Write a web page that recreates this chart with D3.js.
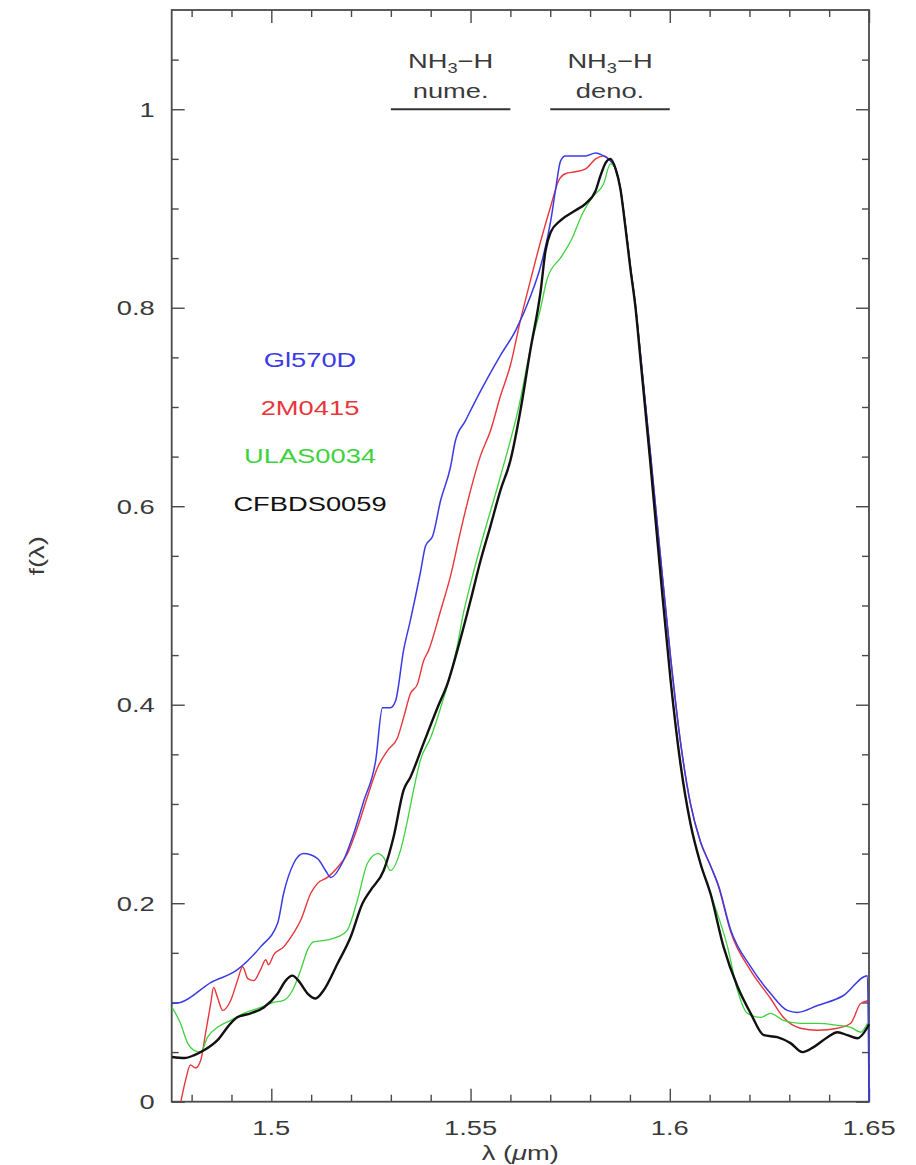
<!DOCTYPE html>
<html>
<head>
<meta charset="utf-8">
<script src="https://cdn.jsdelivr.net/npm/d3@7"></script>
<style>
  body { margin: 0; background: #fff; }
  text { font-family: "Liberation Sans", Arial, Helvetica, sans-serif; }
</style>
</head>
<body>
<svg id="chart" width="916" height="1165"></svg>
<script>
// ---- axis ticks and labels ----
const xMajorTicks = [1.5, 1.55, 1.6, 1.65];
const xMinorTicks = [1.48, 1.49, 1.51, 1.52, 1.53, 1.54, 1.56, 1.57, 1.58, 1.59, 1.61, 1.62, 1.63, 1.64];
const yMajorTicks = [0, 0.2, 0.4, 0.6, 0.8, 1];
const yMinorTicks = [0.05, 0.1, 0.15, 0.25, 0.3, 0.35, 0.45, 0.5, 0.55, 0.65, 0.7, 0.75, 0.85, 0.9, 0.95, 1.05];
const xTickLabels = ["1.5", "1.55", "1.6", "1.65"];
const yTickLabels = ["0", "0.2", "0.4", "0.6", "0.8", "1"];

// ---- index bands: [start, end] wavelength in micron ----
const bandRanges = [[1.53, 1.56], [1.57, 1.60]];
const bandLabels = ["nume.", "deno."];

// ---- spectra: [wavelength (micron), normalised flux] ----
const gl570d = [
  [1.4751,0.099],[1.4772,0.100],[1.4848,0.120],[1.4915,0.133],[1.4973,0.156],[1.5016,0.180],
  [1.5031,0.210],[1.5056,0.240],[1.5081,0.250],[1.5116,0.245],[1.5136,0.233],[1.5149,0.226],
  [1.5181,0.243],[1.5204,0.267],[1.5232,0.303],[1.5262,0.344],[1.5279,0.397],[1.5299,0.397],
  [1.5312,0.404],[1.5332,0.455],[1.5349,0.485],[1.5375,0.535],[1.5387,0.560],[1.5405,0.570],
  [1.5425,0.606],[1.5450,0.640],[1.5462,0.666],[1.5487,0.686],[1.5525,0.716],[1.5575,0.752],
  [1.5613,0.777],[1.5651,0.812],[1.5676,0.842],[1.5701,0.887],[1.5713,0.918],[1.5726,0.948],
  [1.5738,0.953],[1.5763,0.953],[1.5789,0.953],[1.5814,0.956],[1.5834,0.953],[1.5851,0.948],
  [1.5864,0.940],[1.5876,0.920],[1.5889,0.882],[1.5901,0.842],[1.5914,0.802],[1.5926,0.755],
  [1.5951,0.655],[1.5977,0.548],[1.6002,0.448],[1.6027,0.362],[1.6052,0.300],[1.6077,0.262],
  [1.6102,0.238],[1.6122,0.218],[1.6153,0.173],[1.6203,0.136],[1.6253,0.109],[1.6295,0.092],
  [1.6320,0.090],[1.6371,0.097],[1.6436,0.107],[1.6496,0.127],[1.6500,0.000]
];
const m0415 = [
  [1.4773,0.000],[1.4785,0.022],[1.4797,0.037],[1.4810,0.034],[1.4823,0.042],[1.4835,0.069],
  [1.4848,0.099],[1.4855,0.115],[1.4865,0.105],[1.4878,0.092],[1.4898,0.102],[1.4915,0.122],
  [1.4928,0.136],[1.4941,0.124],[1.4956,0.122],[1.4973,0.133],[1.4986,0.143],[1.4993,0.138],
  [1.5006,0.148],[1.5031,0.156],[1.5056,0.170],[1.5074,0.183],[1.5099,0.210],[1.5116,0.220],
  [1.5141,0.226],[1.5166,0.236],[1.5191,0.250],[1.5216,0.276],[1.5241,0.307],[1.5267,0.337],
  [1.5292,0.354],[1.5317,0.367],[1.5332,0.387],[1.5349,0.411],[1.5367,0.421],[1.5382,0.444],
  [1.5395,0.455],[1.5425,0.495],[1.5450,0.530],[1.5475,0.575],[1.5500,0.616],[1.5525,0.651],
  [1.5550,0.676],[1.5575,0.711],[1.5600,0.742],[1.5625,0.787],[1.5650,0.827],[1.5676,0.867],
  [1.5701,0.902],[1.5721,0.928],[1.5738,0.935],[1.5763,0.937],[1.5789,0.940],[1.5814,0.950],
  [1.5834,0.953],[1.5851,0.948],[1.5864,0.940],[1.5876,0.920],[1.5889,0.882],[1.5901,0.842],
  [1.5914,0.802],[1.5926,0.755],[1.5951,0.655],[1.5977,0.548],[1.6002,0.448],[1.6027,0.362],
  [1.6052,0.300],[1.6077,0.262],[1.6102,0.238],[1.6122,0.217],[1.6153,0.171],[1.6203,0.132],
  [1.6253,0.104],[1.6285,0.085],[1.6328,0.074],[1.6371,0.072],[1.6421,0.074],[1.6454,0.079],
  [1.6479,0.099],[1.6500,0.102]
];
const ulas0034 = [
  [1.4751,0.095],[1.4772,0.079],[1.4790,0.059],[1.4805,0.052],[1.4823,0.050],[1.4840,0.065],
  [1.4865,0.075],[1.4898,0.082],[1.4931,0.089],[1.4973,0.095],[1.5006,0.100],[1.5031,0.102],
  [1.5053,0.112],[1.5074,0.133],[1.5091,0.153],[1.5106,0.161],[1.5141,0.163],[1.5166,0.166],
  [1.5191,0.173],[1.5216,0.203],[1.5241,0.240],[1.5267,0.250],[1.5282,0.246],[1.5299,0.233],
  [1.5324,0.253],[1.5342,0.284],[1.5357,0.314],[1.5374,0.344],[1.5400,0.367],[1.5425,0.397],
  [1.5450,0.431],[1.5467,0.460],[1.5482,0.492],[1.5500,0.522],[1.5525,0.560],[1.5575,0.630],
  [1.5621,0.700],[1.5651,0.760],[1.5676,0.800],[1.5693,0.830],[1.5729,0.852],[1.5755,0.870],
  [1.5781,0.895],[1.5807,0.912],[1.5834,0.925],[1.5851,0.945],[1.5864,0.940],[1.5876,0.920],
  [1.5889,0.880],[1.5901,0.840],[1.5914,0.800],[1.5926,0.750],[1.5951,0.645],[1.5977,0.530],
  [1.6002,0.425],[1.6027,0.340],[1.6052,0.280],[1.6077,0.240],[1.6102,0.210],[1.6145,0.156],
  [1.6170,0.112],[1.6195,0.089],[1.6228,0.085],[1.6253,0.089],[1.6285,0.082],[1.6328,0.079],
  [1.6371,0.079],[1.6421,0.077],[1.6454,0.075],[1.6479,0.070],[1.6496,0.079]
];
const cfbds0059 = [
  [1.4751,0.045],[1.4782,0.044],[1.4807,0.047],[1.4832,0.052],[1.4865,0.062],[1.4898,0.079],
  [1.4915,0.085],[1.4948,0.089],[1.4981,0.095],[1.5016,0.109],[1.5036,0.122],[1.5053,0.127],
  [1.5068,0.122],[1.5091,0.109],[1.5111,0.104],[1.5131,0.112],[1.5166,0.139],[1.5199,0.166],
  [1.5229,0.200],[1.5249,0.213],[1.5282,0.233],[1.5307,0.267],[1.5332,0.314],[1.5349,0.327],
  [1.5382,0.361],[1.5417,0.397],[1.5442,0.421],[1.5467,0.455],[1.5500,0.505],[1.5525,0.545],
  [1.5550,0.580],[1.5575,0.616],[1.5600,0.646],[1.5625,0.696],[1.5650,0.757],[1.5676,0.817],
  [1.5688,0.857],[1.5701,0.876],[1.5726,0.888],[1.5763,0.898],[1.5789,0.905],[1.5814,0.918],
  [1.5826,0.933],[1.5839,0.946],[1.5851,0.950],[1.5864,0.940],[1.5876,0.920],[1.5889,0.880],
  [1.5901,0.840],[1.5914,0.800],[1.5926,0.750],[1.5951,0.645],[1.5977,0.530],[1.6002,0.425],
  [1.6027,0.340],[1.6052,0.280],[1.6077,0.240],[1.6102,0.210],[1.6135,0.156],[1.6170,0.116],
  [1.6203,0.089],[1.6236,0.067],[1.6270,0.065],[1.6303,0.059],[1.6333,0.050],[1.6361,0.055],
  [1.6396,0.065],[1.6421,0.070],[1.6446,0.067],[1.6471,0.064],[1.6496,0.075],[1.6500,0.078]
];

const seriesNames  = ["Gl570D", "2M0415", "ULAS0034", "CFBDS0059"];
const seriesData   = [gl570d, m0415, ulas0034, cfbds0059];
const seriesColors = ["#3b3be6", "#e8363a", "#3fd23f", "#111111"];
const seriesWidths = [1.5, 1.4, 1.3, 2.4];
const drawOrder    = [1, 0, 2, 3];

// ---- layout ----
const svg = d3.select("#chart");
const plot = { left: 171.7, right: 869, top: 10, bottom: 1101.7 };
const x = d3.scaleLinear().domain([1.475, 1.65]).range([plot.left, plot.right]);
const y = d3.scaleLinear().domain([0, 1.1]).range([plot.bottom, plot.top]);

const SX = 1.3;              // horizontal stretch of the lettering
const FS = 21;               // base font size
const textColor = "#3a3a3a";
const axisColor = "#4a4a4a";

function label(g, px, py, str, anchor, size, color) {
  const t = g.append("text")
    .attr("transform", `translate(${px},${py}) scale(${SX},1)`)
    .attr("text-anchor", anchor)
    .attr("font-size", size)
    .attr("fill", color);
  t.text(str);
  return t;
}

svg.append("defs").append("clipPath").attr("id", "plotClip")
  .append("rect")
  .attr("x", plot.left - 1).attr("y", plot.top - 1)
  .attr("width", plot.right - plot.left + 2).attr("height", plot.bottom - plot.top + 2);

// ---- frame ----
svg.append("rect")
  .attr("x", plot.left).attr("y", plot.top)
  .attr("width", plot.right - plot.left).attr("height", plot.bottom - plot.top)
  .attr("fill", "none").attr("stroke", axisColor).attr("stroke-width", 1.8);

// ---- ticks (inward, on all four sides) ----
const majorLen = 13, minorLen = 7;
function tickAxis(gen, values, len, tx, ty) {
  const g = svg.append("g")
    .attr("transform", `translate(${tx},${ty})`)
    .call(gen.tickValues(values).tickSizeInner(len).tickSizeOuter(0).tickFormat(""));
  g.select(".domain").remove();
  g.selectAll(".tick line").attr("stroke", axisColor).attr("stroke-width", 1.4);
  return g;
}
tickAxis(d3.axisBottom(x), xMajorTicks, -majorLen, 0, plot.bottom);
tickAxis(d3.axisBottom(x), xMinorTicks, -minorLen, 0, plot.bottom);
tickAxis(d3.axisTop(x), xMajorTicks, -majorLen, 0, plot.top);
tickAxis(d3.axisTop(x), xMinorTicks, -minorLen, 0, plot.top);
tickAxis(d3.axisLeft(y), yMajorTicks, -majorLen, plot.left, 0);
tickAxis(d3.axisLeft(y), yMinorTicks, -minorLen, plot.left, 0);
tickAxis(d3.axisRight(y), yMajorTicks, -majorLen, plot.right, 0);
tickAxis(d3.axisRight(y), yMinorTicks, -minorLen, plot.right, 0);

// ---- tick labels ----
const labels = svg.append("g");
xMajorTicks.forEach((v, i) => label(labels, x(v), plot.bottom + 33, xTickLabels[i], "middle", FS, textColor));
yMajorTicks.forEach((v, i) => label(labels, plot.left - 17, y(v) + 7.5, yTickLabels[i], "end", FS, textColor));

// ---- axis titles ----
const xt = label(labels, (plot.left + plot.right) / 2, 1160, "", "middle", FS, textColor);
xt.append("tspan").text("λ (");
xt.append("tspan").attr("font-style", "italic").text("μ");
xt.append("tspan").text("m)");
svg.append("text")
  .attr("transform", `translate(44,${(plot.top + plot.bottom) / 2}) rotate(-90) scale(${SX},1)`)
  .attr("text-anchor", "middle").attr("font-size", FS).attr("fill", textColor)
  .text("f(λ)");

// ---- spectra ----
const line = d3.line()
  .x(d => x(d[0]))
  .y(d => y(d[1]))
  .curve(d3.curveMonotoneX);
const curves = svg.append("g").attr("clip-path", "url(#plotClip)");
drawOrder.forEach(i => {
  curves.append("path")
    .datum(seriesData[i])
    .attr("fill", "none")
    .attr("stroke", seriesColors[i])
    .attr("stroke-width", seriesWidths[i])
    .attr("stroke-linejoin", "round")
    .attr("d", line);
});

// ---- index bands with labels ----
const bands = svg.append("g");
bandRanges.forEach((r, i) => {
  bands.append("line")
    .attr("x1", x(r[0])).attr("x2", x(r[1]))
    .attr("y1", y(1)).attr("y2", y(1))
    .attr("stroke", "#333").attr("stroke-width", 2);
  const cx = x((r[0] + r[1]) / 2);
  const t = label(bands, cx, 68, "", "middle", FS, textColor);
  t.append("tspan").text("NH");
  t.append("tspan").attr("font-size", 14).attr("dy", 5).text("3");
  t.append("tspan").attr("dy", -5).text("\u2212H");
  label(bands, cx, 98, bandLabels[i], "middle", FS, textColor);
});

// ---- legend ----
const legend = svg.append("g");
const legendX = 310, legendY0 = 367, legendStep = 48;
seriesNames.forEach((name, i) => {
  label(legend, legendX, legendY0 + i * legendStep, name, "middle", FS, seriesColors[i]);
});
</script>
</body>
</html>
